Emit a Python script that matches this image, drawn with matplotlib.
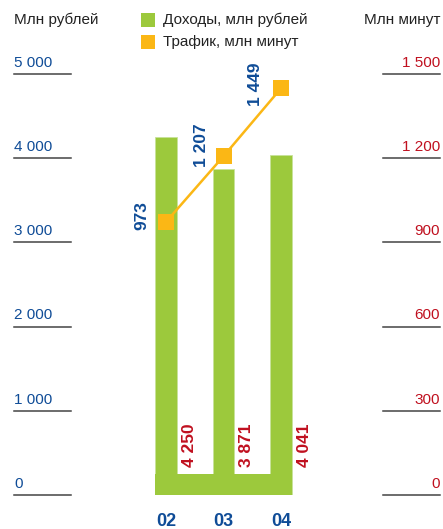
import matplotlib
matplotlib.use("Agg")
import matplotlib.pyplot as plt
from matplotlib.patches import Rectangle
from matplotlib.transforms import blended_transform_factory

plt.rcParams['font.family'] = ['Liberation Sans', 'DejaVu Sans']

# --- data ---
years = ['02', '03', '04']
revenue = [4250, 3871, 4041]          # Млн рублей
traffic = [973, 1207, 1449]           # Млн минут
revenue_labels = ['4 250', '3 871', '4 041']
traffic_labels = ['973', '1 207', '1 449']
left_ticks = [0, 1000, 2000, 3000, 4000, 5000]
left_tick_labels = ['0', '1 000', '2 000', '3 000', '4 000', '5 000']
right_ticks = [0, 300, 600, 900, 1200, 1500]
right_tick_labels = ['0', '300', '600', '900', '1 200', '1 500']

GREEN = '#9cc93c'
ORANGE = '#fbb715'
BLUE = '#0f4c97'
RED = '#c0101f'
GRID = '#444444'

W, H = 443, 529
fig = plt.figure(figsize=(W / 100, H / 100), dpi=100)

# axes: y=0 at pixel 495, top (5000) at pixel 74, full width
y0_px, ytop_px = 495, 74
ax = fig.add_axes([0, (H - y0_px) / H, 1, (y0_px - ytop_px) / H])
x0_px, step_px = 166, 57.5
ax.set_xlim((0 - x0_px) / step_px, (W - x0_px) / step_px)
ax.set_ylim(0, 5000)

ax2 = ax.twinx()
ax2.set_ylim(0, 1500)
for a in (ax, ax2):
    for s in a.spines.values():
        s.set_visible(False)
    a.set_yticks([])
    a.tick_params(left=False, right=False, bottom=False, top=False,
                  labelleft=False, labelright=False, labelbottom=False)

xs = list(range(len(years)))
bar_w = 0.37

# bars with joined base
ax.bar(xs, revenue, width=bar_w, color=GREEN, edgecolor='#c8e29a', linewidth=0.6, zorder=2)
ax.add_patch(Rectangle((xs[0] - bar_w / 2, 0), xs[-1] - xs[0] + bar_w, 255,
                       color=GREEN, zorder=2, linewidth=0))

# traffic line
ax2.plot(xs, traffic, color=ORANGE, linewidth=1.8, marker='s', markersize=11.5,
         markeredgewidth=0, zorder=4)

# left / right tick segments
tl = blended_transform_factory(ax.transAxes, ax.transData)
for v, lab in zip(left_ticks, left_tick_labels):
    ax.axhline(v, xmin=14 / W, xmax=71 / W, color=GRID, linewidth=1.1, clip_on=False)
    ax.text(14 / W, v + 50, lab, transform=tl, ha='left', va='bottom',
            fontsize=11, color=BLUE)
tr = blended_transform_factory(ax2.transAxes, ax2.transData)
for v, lab in zip(right_ticks, right_tick_labels):
    ax2.axhline(v, xmin=383 / W, xmax=440 / W, color=GRID, linewidth=1.1, clip_on=False)
    ax2.text(440 / W, v + 15, lab, transform=tr, ha='right', va='bottom',
             fontsize=11, color=RED)

# value labels
for x, v, lab in zip(xs, revenue, revenue_labels):
    ax.annotate(lab, (x, 0), xytext=(23, 28), textcoords='offset pixels',
                rotation=90, ha='center', va='bottom', fontsize=12.5,
                fontweight='bold', color=RED, zorder=5)
offsets = [(-24, 6), (-22, 11), (-26, 4)]
for x, v, lab, off in zip(xs, traffic, traffic_labels, offsets):
    ax2.annotate(lab, (x, v), xytext=off, textcoords='offset pixels',
                 rotation=90, ha='center', va='center', fontsize=12.5,
                 fontweight='bold', color=BLUE, zorder=5)

# category labels
for x, lab in zip(xs, years):
    ax.annotate(lab, (x, 0), xytext=(0, -27), textcoords='offset pixels',
                ha='center', va='center', fontsize=13, fontweight='bold',
                color=BLUE, annotation_clip=False)

# axis titles
fig.text(14 / W, 1 - 20 / H, 'Млн рублей', ha='left', va='center', fontsize=11, color='#222222')
fig.text(440 / W, 1 - 20 / H, 'Млн минут', ha='right', va='center', fontsize=11, color='#222222')

# legend
for i, (col, lab) in enumerate([(GREEN, 'Доходы, млн рублей'), (ORANGE, 'Трафик, млн минут')]):
    top = 13 + i * 22
    fig.add_artist(Rectangle((141 / W, 1 - (top + 14) / H), 14 / W, 14 / H,
                             transform=fig.transFigure, color=col, linewidth=0))
    fig.text(163 / W, 1 - (top + 7) / H, lab, ha='left', va='center',
             fontsize=11, color='#222222')

fig.savefig('out.png', dpi=100)
